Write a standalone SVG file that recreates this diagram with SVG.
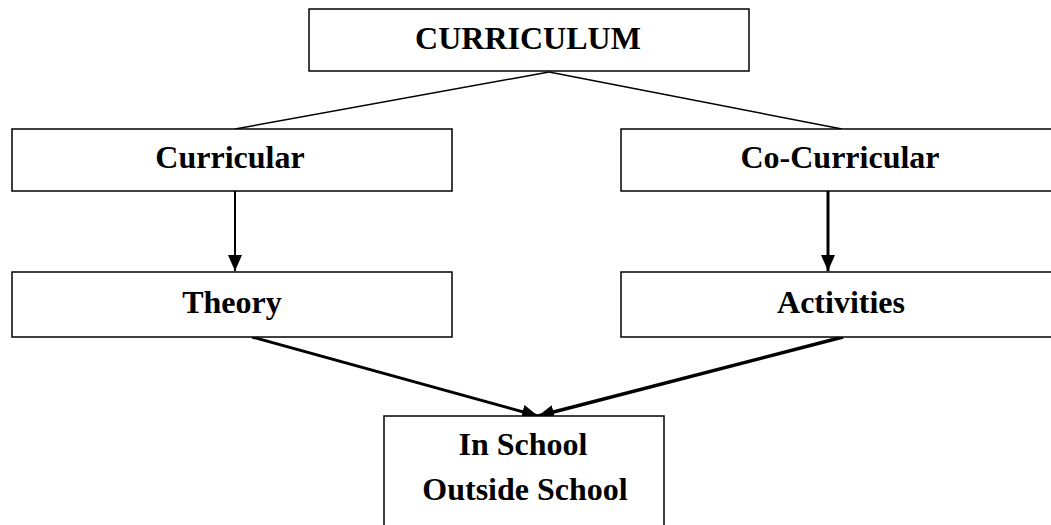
<svg xmlns="http://www.w3.org/2000/svg" width="1051" height="525" viewBox="0 0 1051 525">
<style>
.box{fill:#fff;stroke:#000;stroke-width:1.5}
.t{font-family:"Liberation Serif","Times New Roman",serif;font-weight:bold;font-size:32px;text-anchor:middle;fill:#000}
.ln{stroke:#000;fill:none}
</style>
<defs>
<marker id="ah" markerUnits="userSpaceOnUse" markerWidth="16" markerHeight="14" refX="16" refY="7" orient="auto" viewBox="0 0 16 14">
<path d="M0,0 L16,7 L0,14 z" fill="#000"/>
</marker>
</defs>
<rect width="1051" height="525" fill="#fff"/>
<g id="connectors">
<line class="ln" x1="549" y1="72" x2="235" y2="129" stroke-width="1.5"/>
<line class="ln" x1="549" y1="72" x2="842" y2="129" stroke-width="1.5"/>
<line class="ln" x1="235" y1="191" x2="235" y2="271" stroke-width="2" marker-end="url(#ah)"/>
<line class="ln" x1="828" y1="191" x2="828" y2="271" stroke-width="3" marker-end="url(#ah)"/>
<line class="ln" x1="252" y1="337" x2="538" y2="416" stroke-width="3" marker-end="url(#ah)"/>
<line class="ln" x1="843" y1="337" x2="538" y2="416" stroke-width="3.5" marker-end="url(#ah)"/>
</g>
<g id="curriculum">
<rect class="box" x="309" y="9" width="440" height="62"/>
<text class="t" x="528" y="49">CURRICULUM</text>
</g>
<g id="curricular">
<rect class="box" x="12" y="129" width="440" height="62"/>
<text class="t" x="230" y="168">Curricular</text>
</g>
<g id="co-curricular">
<rect class="box" x="621" y="129" width="440" height="62"/>
<text class="t" x="840" y="168">Co-Curricular</text>
</g>
<g id="theory">
<rect class="box" x="12" y="272" width="440" height="65"/>
<text class="t" x="232" y="313">Theory</text>
</g>
<g id="activities">
<rect class="box" x="621" y="272" width="440" height="65"/>
<text class="t" x="841" y="313">Activities</text>
</g>
<g id="school">
<rect class="box" x="384" y="416" width="280" height="120"/>
<text class="t" x="523" y="455">In School</text>
<text class="t" x="525" y="500">Outside School</text>
</g>
</svg>
